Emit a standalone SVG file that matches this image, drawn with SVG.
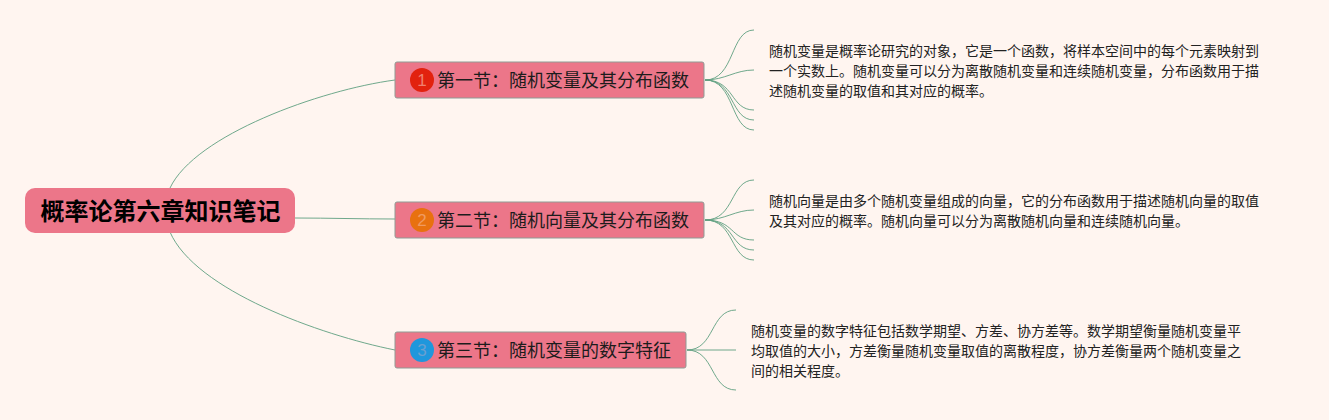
<svg xmlns="http://www.w3.org/2000/svg" width="1329" height="420" viewBox="0 0 1329 420">
<style>
text{font-family:"Noto Sans CJK SC","Noto Sans",sans-serif}
.c path{fill:none;stroke:#5f9f80;stroke-width:.9}
.sec{fill:#ec7689;stroke:#8f9b95;stroke-width:1}
.st{font-size:18px;fill:#1c1c1c}
.d{font-size:14px;fill:#222}
.n{font-size:17px;font-family:"Liberation Sans",sans-serif;text-anchor:middle}
</style>
<rect width="1329" height="420" fill="#fff5f0"/>
<g class="c" id="connectors">
<path d="M170 188C195 135 320 90 395 80"/>
<path d="M295 218C330 218 360 219 395 219"/>
<path d="M170 232C195 290 320 335 395 350"/>
<path d="M705 80C735 80 730 30 754 30"/>
<path d="M705 80C725 80 735 70 754 70"/>
<path d="M705 80C735 80 730 110 754 110"/>
<path d="M705 80C735 80 730 120 754 120"/>
<path d="M705 80C735 80 730 130 754 130"/>
<path d="M705 220C735 220 730 180 754 180"/>
<path d="M705 220C725 220 735 210 754 210"/>
<path d="M705 220C735 220 730 240 754 240"/>
<path d="M705 220C735 220 730 250 754 250"/>
<path d="M705 220C735 220 730 260 754 260"/>
<path d="M687 350C715 350 710 310 736 310"/>
<path d="M687 350H736"/>
<path d="M687 350C715 350 710 390 736 390"/>
</g>
<g id="root"><rect x="25" y="188" width="270" height="45" rx="10" fill="#ec7689"/><text x="160.500" y="220" text-anchor="middle" font-size="24" font-weight="700" fill="#000">概率论第六章知识笔记</text></g>
<g id="s1"><rect class="sec" x="395" y="62" width="309" height="36" rx="2"/><circle cx="422" cy="80" r="12" fill="#e2220e"/><text class="n" x="422" y="86" fill="#f08070">1</text><text class="st" x="437" y="87">第一节：随机变量及其分布函数</text></g>
<g id="s2"><rect class="sec" x="395" y="202" width="309" height="36" rx="2"/><circle cx="422" cy="220" r="12" fill="#e8710f"/><text class="n" x="422" y="226" fill="#f09a60">2</text><text class="st" x="437" y="227">第二节：随机向量及其分布函数</text></g>
<g id="s3"><rect class="sec" x="395" y="332" width="291" height="36" rx="2"/><circle cx="422" cy="350" r="12" fill="#1f97dc"/><text class="n" x="422" y="356" fill="#6aa0d0">3</text><text class="st" x="437" y="357">第三节：随机变量的数字特征</text></g>
<g id="d1"><text class="d" x="769" y="56">随机变量是概率论研究的对象，它是一个函数，将样本空间中的每个元素映射到</text><text class="d" x="769" y="76">一个实数上。随机变量可以分为离散随机变量和连续随机变量，分布函数用于描</text><text class="d" x="769" y="96">述随机变量的取值和其对应的概率。</text></g>
<g id="d2"><text class="d" x="769" y="206">随机向量是由多个随机变量组成的向量，它的分布函数用于描述随机向量的取值</text><text class="d" x="769" y="226">及其对应的概率。随机向量可以分为离散随机向量和连续随机向量。</text></g>
<g id="d3"><text class="d" x="751" y="336">随机变量的数字特征包括数学期望、方差、协方差等。数学期望衡量随机变量平</text><text class="d" x="751" y="356">均取值的大小，方差衡量随机变量取值的离散程度，协方差衡量两个随机变量之</text><text class="d" x="751" y="376">间的相关程度。</text></g>
</svg>
